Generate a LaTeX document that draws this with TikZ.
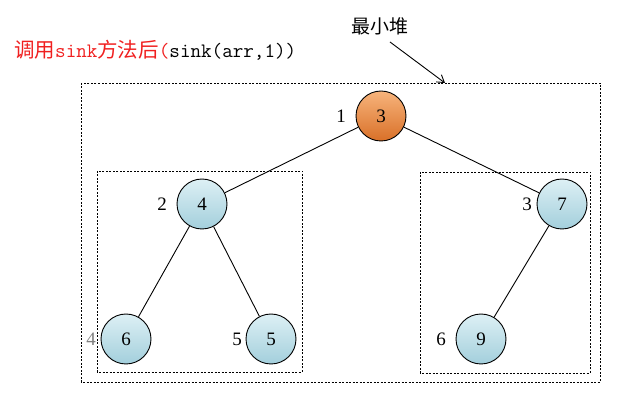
\documentclass[tikz,border=0pt]{standalone}
\usetikzlibrary{arrows.meta}
\usepackage{fontspec}
\setmainfont{Liberation Serif}
\newfontfamily\cjk{Noto Sans CJK SC}
\definecolor{titlered}{HTML}{F02020}
\definecolor{bluetop}{HTML}{DDF0F5}
\definecolor{bluebot}{HTML}{A3CFDC}
\definecolor{orangetop}{HTML}{F7B47C}
\definecolor{orangebot}{HTML}{D97028}
\begin{document}
\begin{tikzpicture}[x=1pt,y=-1pt,
  heapnode/.style={circle,draw=black,line width=0.9pt,minimum size=50pt,inner sep=0pt,
    top color=bluetop,bottom color=bluebot,font=\fontsize{19}{19}\selectfont},
  rootnode/.style={heapnode,top color=orangetop,bottom color=orangebot},
  idx/.style={font=\fontsize{19}{19}\selectfont},
  box/.style={draw,dashed,dash pattern=on 2pt off 1.5pt,line width=0.8pt},
  edge/.style={draw,line width=0.9pt}]
\useasboundingbox (0,0) rectangle (625,406);
\draw[box] (81,83) rectangle (600,382);
\draw[box] (97,171) rectangle (302,372);
\draw[box] (420,172) rectangle (590,373);
\node[rootnode] (n1) at (381,116) {3};
\node[heapnode] (n2) at (202,204) {4};
\node[heapnode] (n3) at (562,204) {7};
\node[heapnode] (n4) at (126,339) {6};
\node[heapnode] (n5) at (271,339) {5};
\node[heapnode] (n6) at (481,339) {9};
\node[idx] (i1) at (341,116) {1};
\node[idx] (i2) at (162,204) {2};
\node[idx] (i3) at (527,204) {3};
\node[idx,text=gray] (i4) at (91,339) {4};
\node[idx] (i5) at (237,339) {5};
\node[idx] (i6) at (441,339) {6};
\draw[edge] (n1) -- (n2);
\draw[edge] (n1) -- (n3);
\draw[edge] (n2) -- (n4);
\draw[edge] (n2) -- (n5);
\draw[edge] (n3) -- (n6);
\node[anchor=base west,inner sep=0pt] (title) at (14,58) {\color{titlered}\cjk\fontsize{20.5}{20.5}\selectfont 调用{\ttfamily\fontsize{20.5}{20.5}\selectfont sink}方法后{\ttfamily\fontsize{20.5}{20.5}\selectfont (}\color{black}{\ttfamily\fontsize{20.5}{20.5}\selectfont sink(arr,1))}};
\node[font=\cjk\fontsize{19}{19}\selectfont] (heap) at (380,26) {最小堆};
\coordinate (tip) at (445,83);
\draw[line width=0.9pt,-{Straight Barb[length=7pt,width=9pt]}] (390,42) -- (tip);
\end{tikzpicture}
\end{document}
